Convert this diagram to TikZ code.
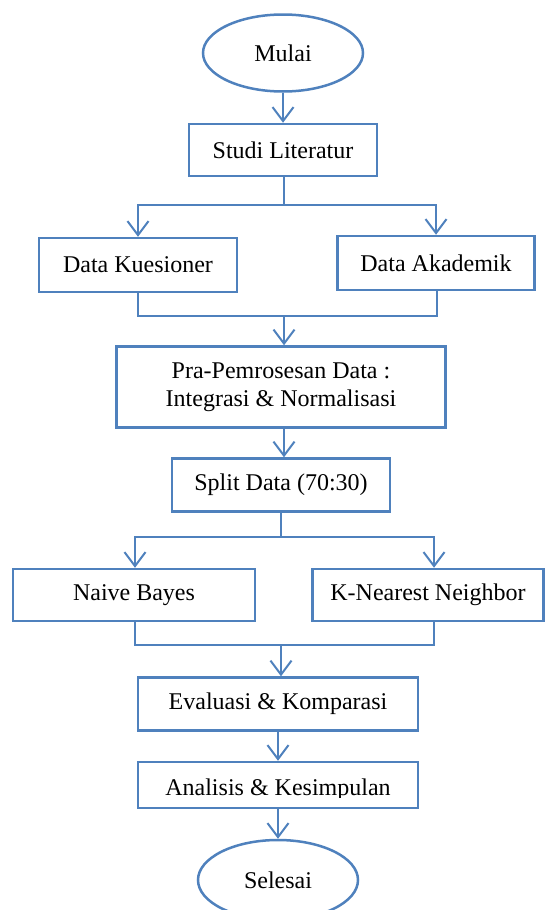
\documentclass[tikz,border=0pt]{standalone}
\usepackage{fontspec}
\setmainfont{Liberation Serif}
\usepackage{tikz}
\usetikzlibrary{arrows.meta, shapes.geometric, positioning}
\definecolor{flowblue}{HTML}{4F81BD}

\begin{document}
\begin{tikzpicture}[x=1pt, y=-1pt,
    font=\fontsize{24}{28}\selectfont,
    stepbox/.style={draw=flowblue, line width=2.5pt, fill=white, inner sep=0pt, align=center},
    endbox/.style={draw=flowblue, line width=2.5pt, fill=white, ellipse, inner sep=0pt, minimum width=160pt, minimum height=77pt},
    conn/.style={draw=flowblue, line width=2pt},
    arrow/.style={conn, -{Straight Barb[length=14pt, width=21pt, line width=2pt]}}]
  \useasboundingbox (0,0) rectangle (544,910);

  % nodes
  \node[endbox] (mulai) at (283,53) {Mulai};
  \node[stepbox, minimum width=188pt, minimum height=52pt] (studi) at (283,150) {Studi Literatur};
  \node[stepbox, minimum width=198pt, minimum height=54pt] (kuesioner) at (138,265) {Data Kuesioner};
  \node[stepbox, minimum width=197pt, minimum height=54pt] (akademik) at (436,263) {Data Akademik};
  \node[stepbox, minimum width=329pt, minimum height=81pt] (prapros) at (281,387) {Pra-Pemrosesan Data :\\Integrasi \& Normalisasi};
  \node[stepbox, minimum width=218pt, minimum height=53pt] (split) at (281,485) {Split Data (70:30)};
  \node[stepbox, minimum width=242pt, minimum height=52pt] (naive) at (134,595) {Naive Bayes};
  \node[stepbox, minimum width=231pt, minimum height=52pt] (knn) at (428,595) {K-Nearest Neighbor};
  \node[stepbox, minimum width=280pt, minimum height=53pt] (evaluasi) at (278,704) {Evaluasi \& Komparasi};
  \node[stepbox, minimum width=280pt, minimum height=46pt] (analisis) at (278,785) {};
  \begin{scope}
    \clip ([yshift=1pt]analisis.north west) rectangle ([yshift=12pt]analisis.south east);
    \node[anchor=base] (analisistext) at ([yshift=14pt]analisis.south) {Analisis \& Kesimpulan};
  \end{scope}
  \node[endbox, minimum height=80pt] (selesai) at (278,880) {Selesai};

  % branch and merge points
  \coordinate (b1) at (284,205);
  \coordinate (m1) at (284,316);
  \coordinate (b2) at (281,537);
  \coordinate (m2) at (281,645);

  % connectors
  \draw[arrow] (mulai.south) -- (studi.north);
  \draw[conn] (studi.south -| b1) -- (b1);
  \draw[arrow] (b1) -| (kuesioner.north);
  \draw[arrow] (b1) -| (akademik.north);
  \draw[conn] (kuesioner.south) |- (m1) -| ([xshift=1pt]akademik.south);
  \draw[arrow] (m1) -- (prapros.north -| m1);
  \draw[arrow] (prapros.south -| m1) -- (split.north -| m1);
  \draw[conn] (split.south) -- (b2);
  \draw[arrow] (b2) -| ([xshift=1pt]naive.north);
  \draw[arrow] (b2) -| ([xshift=6pt]knn.north);
  \draw[conn] ([xshift=1pt]naive.south) |- (m2) -| ([xshift=6pt]knn.south);
  \draw[arrow] (m2) -- (evaluasi.north -| m2);
  \draw[arrow] (evaluasi.south) -- (analisis.north);
  \draw[arrow] (analisis.south) -- (selesai.north);
\end{tikzpicture}
\end{document}
